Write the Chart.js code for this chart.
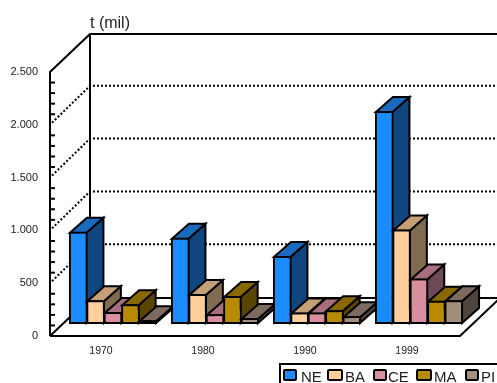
<!DOCTYPE html>
<html>
<head>
  <meta charset="utf-8"/>
  <script src="https://cdn.jsdelivr.net/npm/chart.js@4"></script>
  <style>
    body { margin: 0; background: #ffffff; }
    canvas { display: block; }
  </style>
</head>
<body>
  <canvas id="chart" width="497" height="383"></canvas>
  <script>
    var years = ["1970", "1980", "1990", "1999"];
    var seriesNames = ["NE", "BA", "CE", "MA", "PI"];
    var NE = [873, 816, 645, 2018];
    var BA = [226, 283, 108, 895];
    var CE = [113, 93, 108, 431];
    var MA = [188, 264, 131, 219];
    var PI = [36, 58, 74, 226];
    var seriesValues = [NE, BA, CE, MA, PI];

    var frontColors = ["#1a8cff", "#ffd09b", "#d98ea0", "#b88a00", "#a38d7c"];
    var topColors = ["#1a6bc0", "#c4a077", "#a86e7e", "#8a6800", "#7c6b5e"];
    var sideColors = ["#10457f", "#806a50", "#6e4a55", "#5a4500", "#4f453c"];

    var FONT = '"Liberation Sans", Arial, sans-serif';
    var TEXT_COLOR = "#222222";

    // how far the room goes back, and how far the bars sit inside it
    var ROOM_DX = 40, ROOM_DY = 38, GRID_DY = 39;
    var BAR_SHIFT_X = 12, BAR_SHIFT_Y = -12;
    var BAR_DX = 17, BAR_DY = 15;

    var legendSwatchX = [284, 328, 374, 417, 466];
    var legendSwatchW = [12, 14, 12, 14, 12];
    var legendTextX = [301, 345, 388, 434, 481];

    function line(ctx, pts) {
      ctx.beginPath();
      ctx.moveTo(pts[0][0], pts[0][1]);
      for (var i = 1; i < pts.length; i++) ctx.lineTo(pts[i][0], pts[i][1]);
      ctx.stroke();
    }

    function poly(ctx, pts, fill) {
      ctx.beginPath();
      ctx.moveTo(pts[0][0], pts[0][1]);
      for (var i = 1; i < pts.length; i++) ctx.lineTo(pts[i][0], pts[i][1]);
      ctx.closePath();
      ctx.fillStyle = fill;
      ctx.fill();
      ctx.stroke();
    }

    function drawRoom(chart) {
      var ctx = chart.ctx;
      var y = chart.scales.y;
      var a = chart.chartArea;
      var far = chart.width + 10;
      ctx.save();
      ctx.strokeStyle = "#000000";
      ctx.lineJoin = "miter";

      // dotted lines on side wall and back wall
      ctx.lineWidth = 2;
      ctx.setLineDash([2, 2]);
      y.ticks.forEach(function(t) {
        if (t.value % 500 != 0 || t.value == 0 || t.value == 2500) return;
        var py = y.getPixelForValue(t.value);
        line(ctx, [[a.left + 2, py - 2], [a.left + ROOM_DX, py - GRID_DY], [far, py - GRID_DY]]);
      });
      ctx.setLineDash([]);

      // minor ticks on the front axis
      y.ticks.forEach(function(t) {
        if (t.value % 500 == 0) return;
        var py = y.getPixelForValue(t.value);
        line(ctx, [[a.left, py], [a.left + 5, py]]);
      });

      // walls and floor
      var top = y.getPixelForValue(2500), zero = y.getPixelForValue(0);
      line(ctx, [[a.left, zero], [a.left, top], [a.left + ROOM_DX, top - ROOM_DY], [far, top - ROOM_DY]]);
      line(ctx, [[a.left + ROOM_DX, top - ROOM_DY], [a.left + ROOM_DX, zero - ROOM_DY]]);
      line(ctx, [[a.left, zero], [a.right + 2, zero], [a.right + 2 + ROOM_DX, zero - ROOM_DY]]);
      line(ctx, [[a.left, zero], [a.left + ROOM_DX, zero - ROOM_DY], [far, zero - ROOM_DY]]);
      ctx.restore();
    }

    var room = {
      id: "room",
      beforeDatasetsDraw: function(chart) {
        var ctx = chart.ctx;
        drawRoom(chart);
        // left to right, so every bar covers the side of the one before it
        var metas = chart.getSortedVisibleDatasetMetas();
        ctx.save();
        ctx.translate(BAR_SHIFT_X, BAR_SHIFT_Y);
        ctx.lineJoin = "miter";
        years.forEach(function(year, c) {
          metas.forEach(function(meta, i) {
            var bar = meta.data[c];
            var p = bar.getProps(["x", "y", "base", "width"], true);
            var l = p.x - p.width / 2 + 1, r = p.x + p.width / 2 - 1;
            var t = p.y + 1, b = p.base - 1;
            ctx.strokeStyle = "#000000";
            ctx.lineWidth = 2;
            poly(ctx, [[r, t], [r + BAR_DX, t - BAR_DY], [r + BAR_DX, b - BAR_DY], [r, b]], sideColors[i]);
            poly(ctx, [[l, t], [l + BAR_DX, t - BAR_DY], [r + BAR_DX, t - BAR_DY], [r, t]], topColors[i]);
            bar.draw(ctx);
          });
        });
        ctx.restore();
        return false;
      },
      afterDraw: function(chart) {
        var ctx = chart.ctx;
        ctx.save();
        ctx.fillStyle = TEXT_COLOR;
        ctx.textBaseline = "alphabetic";
        ctx.font = "16px " + FONT;
        ctx.fillText("t (mil)", 90, 28);

        // the legend box runs off the page on the right and at the bottom
        ctx.strokeStyle = "#000000";
        ctx.lineWidth = 2;
        ctx.strokeRect(280, 364, 240, 40);
        ctx.font = "15px " + FONT;
        seriesNames.forEach(function(name, i) {
          ctx.beginPath();
          ctx.roundRect(legendSwatchX[i], 370, legendSwatchW[i], 10, 1);
          ctx.fillStyle = frontColors[i];
          ctx.fill();
          ctx.stroke();
          ctx.fillStyle = TEXT_COLOR;
          ctx.fillText(name, legendTextX[i], 382);
        });
        ctx.restore();
      }
    };

    new Chart(document.getElementById("chart"), {
      type: "bar",
      data: {
        labels: years,
        datasets: seriesNames.map(function(name, i) {
          return {
            label: name,
            data: seriesValues[i],
            backgroundColor: frontColors[i],
            borderColor: "#000000",
            borderWidth: 2,
            borderSkipped: false,
            inflateAmount: 0,
            clip: false,
            categoryPercentage: 0.853,
            barPercentage: 1.063
          };
        })
      },
      options: {
        responsive: false,
        animation: false,
        layout: { padding: { top: 72, right: 39, left: 0, bottom: 0 } },
        plugins: {
          legend: { display: false },
          title: { display: false },
          tooltip: { enabled: false }
        },
        scales: {
          x: {
            grid: { display: false },
            border: { display: false },
            ticks: {
              color: TEXT_COLOR,
              font: { family: FONT, size: 10.5 },
              padding: 1,
              maxRotation: 0
            },
            afterFit: function(scale) { scale.height = 47; }
          },
          y: {
            min: 0,
            max: 2500,
            grid: { display: false },
            border: { display: false },
            ticks: {
              stepSize: 100,
              autoSkip: false,
              padding: 4,
              color: TEXT_COLOR,
              font: { family: FONT, size: 11 },
              callback: function(v) {
                if (v % 500 != 0) return "";
                return v >= 1000 ? Math.floor(v / 1000) + "." + ("00" + (v % 1000)).slice(-3) : "" + v;
              }
            },
            afterFit: function(scale) { scale.width = 50; }
          }
        }
      },
      plugins: [room]
    });
  </script>
</body>
</html>
